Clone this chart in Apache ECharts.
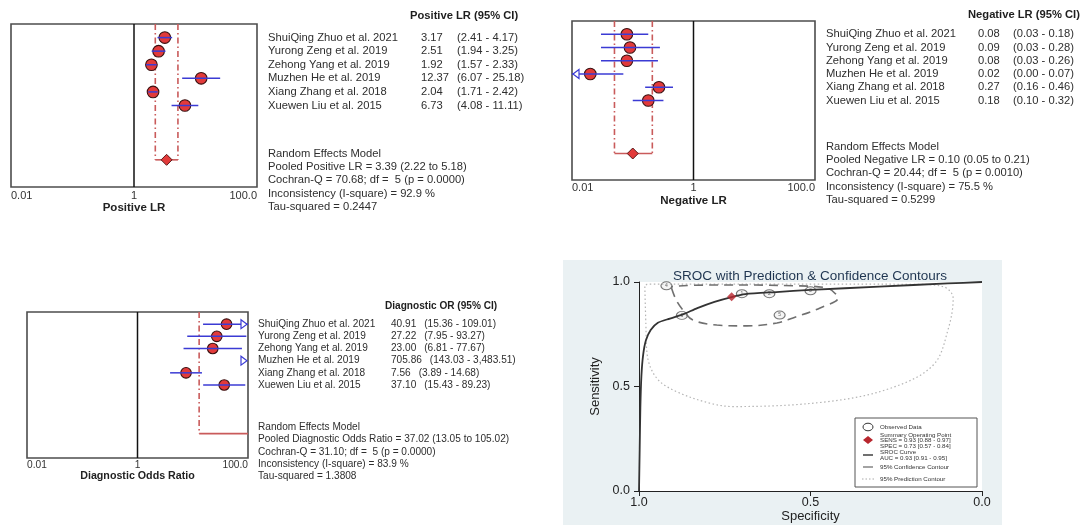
<!DOCTYPE html>
<html><head><meta charset="utf-8">
<script src="https://cdn.jsdelivr.net/npm/echarts@6/dist/echarts.min.js"></script>
<style>html,body{margin:0;padding:0;background:#fff}#c{width:1083px;height:525px}</style>
</head><body><div id="c"></div>
<script>
// ---------------- DATA ----------------
const studies = ['ShuiQing Zhuo et al. 2021','Yurong Zeng et al. 2019','Zehong Yang et al. 2019','Muzhen He et al. 2019','Xiang Zhang et al. 2018','Xuewen Liu et al. 2015'];
const studyNo = ['1','2','3','4','5','6'];

const plrEst = [3.17, 2.51, 1.92, 12.37, 2.04, 6.73];
const plrLo  = [2.41, 1.94, 1.57, 6.07, 1.71, 4.08];
const plrHi  = [4.17, 3.25, 2.33, 25.18, 2.42, 11.11];
const plrPooled = [3.39, 2.22, 5.18];
const plrStats = ['Random Effects Model','Pooled Positive LR = 3.39 (2.22 to 5.18)','Cochran-Q = 70.68; df =  5 (p = 0.0000)','Inconsistency (I-square) = 92.9 %','Tau-squared = 0.2447'];

const nlrEst = [0.08, 0.09, 0.08, 0.02, 0.27, 0.18];
const nlrLo  = [0.03, 0.03, 0.03, 0.00, 0.16, 0.10];
const nlrHi  = [0.18, 0.28, 0.26, 0.07, 0.46, 0.32];
const nlrPooled = [0.10, 0.05, 0.21];
const nlrStats = ['Random Effects Model','Pooled Negative LR = 0.10 (0.05 to 0.21)','Cochran-Q = 20.44; df =  5 (p = 0.0010)','Inconsistency (I-square) = 75.5 %','Tau-squared = 0.5299'];

const dorEst = [40.91, 27.22, 23.00, 705.86, 7.56, 37.10];
const dorLo  = [15.36, 7.95, 6.81, 143.03, 3.89, 15.43];
const dorHi  = [109.01, 93.27, 77.67, 3483.51, 14.68, 89.23];
const dorPooled = [37.02, 13.05, 105.02];
const dorStats = ['Random Effects Model','Pooled Diagnostic Odds Ratio = 37.02 (13.05 to 105.02)','Cochran-Q = 31.10; df =  5 (p = 0.0000)','Inconsistency (I-square) = 83.9 %','Tau-squared = 1.3808'];

const logTicks = [0.01, 1, 100];
const logTickLabels = ['0.01', '1', '100.0'];

// SROC (specificity, sensitivity)
const obsSpec = [0.70, 0.62, 0.50, 0.92, 0.59, 0.875];
const obsSens = [0.944, 0.944, 0.958, 0.982, 0.842, 0.840];
const summarySpec = 0.73, summarySens = 0.93;
const srocSpec = [1.0, 0.998, 0.996, 0.993, 0.988, 0.980, 0.966, 0.945, 0.91, 0.872, 0.83, 0.78, 0.73, 0.69, 0.60, 0.50, 0.30, 0.10, 0.0];
const srocSens = [0.0, 0.20, 0.40, 0.55, 0.65, 0.72, 0.77, 0.805, 0.825, 0.845, 0.875, 0.905, 0.928, 0.942, 0.952, 0.962, 0.978, 0.993, 1.0];
const confSpec = [0.905, 0.892, 0.872, 0.843, 0.773, 0.685, 0.598, 0.551, 0.472, 0.420, 0.452, 0.551, 0.764, 0.904, 0.905];
const confSens = [0.970, 0.915, 0.866, 0.818, 0.794, 0.790, 0.804, 0.828, 0.876, 0.923, 0.971, 0.982, 0.986, 0.978, 0.970];
const predSpec = [0.983, 0.980, 0.976, 0.948, 0.890, 0.793, 0.725, 0.453, 0.268, 0.142, 0.098, 0.084, 0.113, 0.20, 0.60, 0.975, 0.983];
const predSens = [0.978, 0.80, 0.651, 0.539, 0.475, 0.420, 0.404, 0.427, 0.491, 0.603, 0.778, 0.922, 0.978, 0.989, 0.990, 0.990, 0.978];
const srocXTicks = ['1.0','0.5','0.0'];
const legendTexts = ['Observed Data','Summary Operating Point','SENS = 0.93 [0.88 - 0.97]','SPEC = 0.73 [0.57 - 0.84]','SROC Curve','AUC = 0.93 [0.91 - 0.95]','95% Confidence Contour','95% Prediction Contour'];

// ---------------- LAYOUT ----------------
const FONT = '"Liberation Sans", Arial, sans-serif';
const G = [
  {left: 11,  top: 24,  width: 246, height: 163},
  {left: 572, top: 21,  width: 243, height: 159},
  {left: 27,  top: 312, width: 221, height: 146},
  {left: 639, top: 282, width: 343, height: 209}
];
const ROWS = 12, POOLROW = 10;
const rowY = (g, r) => g.top + r / ROWS * g.height;

const ctx = document.createElement('canvas').getContext('2d');
function tw(t, size) { ctx.font = size + 'px ' + FONT; return ctx.measureText(t).width; }
const fmt = v => v.toLocaleString('en-US', {minimumFractionDigits: 2, maximumFractionDigits: 2});

const chart = echarts.init(document.getElementById('c'));
const BLUE = '#3b3bd4', RED = '#e23a3a', BRK = '#c95b5b';

function forestX(gi, name, fs, nameGap, margin) {
  return {gridIndex: gi, type: 'log', logBase: 10, min: 0.01, max: 100, name, nameLocation: 'middle', nameGap,
    nameTextStyle: {fontFamily: FONT, fontWeight: 'bold', fontSize: fs + 0.5, color: '#222'},
    axisLine: {show: false}, axisTick: {show: false}, splitLine: {show: false},
    axisLabel: {fontFamily: FONT, fontSize: fs, color: '#333', margin, showMinLabel: true, showMaxLabel: true,
      alignMinLabel: 'left', alignMaxLabel: 'right', hideOverlap: false,
      formatter: v => { const i = logTicks.findIndex(t => Math.abs(Math.log10(t) - Math.log10(v)) < 1e-6); return i >= 0 ? logTickLabels[i] : ''; }}};
}
function forestY(gi) { return {gridIndex: gi, type: 'value', min: 0, max: ROWS, inverse: true, show: false}; }

function forestSeries(gi, est, lo, hi, r) {
  return {type: 'custom', xAxisIndex: gi, yAxisIndex: gi, z: 5, silent: true,
    data: est.map((e, i) => [e, i + 1, lo[i], hi[i]]), encode: {x: 0, y: 1},
    renderItem: (p, api) => {
      const e = api.value(0), y = api.value(1), l = api.value(2), h = api.value(3);
      const MIN = 0.01, MAX = 100;
      const yy = api.coord([1, y])[1];
      const xMin = api.coord([MIN, y])[0], xMax = api.coord([MAX, y])[0];
      const cx = v => v <= MIN ? xMin : (v >= MAX ? xMax : api.coord([v, y])[0]);
      const ch = [];
      if (e >= MIN && e <= MAX) ch.push({type: 'circle', shape: {cx: cx(e), cy: yy, r}, style: {fill: RED, stroke: '#3a1010', lineWidth: 1.1}});
      if (l < MAX && h > MIN) ch.push({type: 'line', shape: {x1: cx(l), y1: yy, x2: cx(h), y2: yy}, style: {stroke: BLUE, lineWidth: 1.5}});
      if (l < MIN) ch.push({type: 'polygon', shape: {points: [[xMin + 1, yy], [xMin + 7, yy - 4.5], [xMin + 7, yy + 4.5]]}, style: {fill: '#fff', stroke: BLUE, lineWidth: 1.2}});
      if (h > MAX) ch.push({type: 'polygon', shape: {points: [[xMax - 1, yy], [xMax - 7, yy - 4.5], [xMax - 7, yy + 4.5]]}, style: {fill: '#fff', stroke: BLUE, lineWidth: 1.2}});
      return {type: 'group', children: ch};
    }};
}
function pooledSeries(gi, pooled, d) {
  return {type: 'custom', xAxisIndex: gi, yAxisIndex: gi, z: 2, silent: true,
    data: [[pooled[0], POOLROW, pooled[1], pooled[2]]], encode: {x: 0, y: 1},
    renderItem: (p, api) => {
      const e = api.value(0), y = api.value(1), l = api.value(2), h = api.value(3);
      const MIN = 0.01, MAX = 100;
      const top = api.coord([1, 0])[1], bot = api.coord([1, ROWS])[1], yy = api.coord([1, y])[1];
      const xMin = api.coord([MIN, y])[0], xMax = api.coord([MAX, y])[0];
      const cx = v => v <= MIN ? xMin : (v >= MAX ? xMax : api.coord([v, y])[0]);
      const one = api.coord([1, y])[0];
      const ch = [{type: 'line', shape: {x1: one, y1: top, x2: one, y2: bot}, style: {stroke: '#111', lineWidth: 1.5}}];
      const dash = {stroke: BRK, lineWidth: 1.6, lineDash: [6, 3, 1.5, 3]};
      if (l > MIN && l < MAX) ch.push({type: 'line', shape: {x1: cx(l), y1: top, x2: cx(l), y2: yy}, style: dash});
      if (h > MIN && h < MAX) ch.push({type: 'line', shape: {x1: cx(h), y1: top, x2: cx(h), y2: yy}, style: dash});
      ch.push({type: 'line', shape: {x1: cx(l), y1: yy, x2: cx(h), y2: yy}, style: {stroke: BRK, lineWidth: 1.6}});
      if (e > MIN && h <= MAX) { const x = cx(e); ch.push({type: 'polygon', shape: {points: [[x - d, yy], [x, yy - d], [x + d, yy], [x, yy + d]]}, style: {fill: RED, stroke: '#5a1a1a', lineWidth: 1}}); }
      return {type: 'group', children: ch};
    }};
}

// ---------------- TEXT (graphic) ----------------
const gfx = [];
function T(x, y, text, size, extra) {
  gfx.push({type: 'text', x, y, silent: true, style: Object.assign({text, fill: '#2e2e2e', fontFamily: FONT, fontSize: size, verticalAlign: 'middle', align: 'left'}, extra || {})});
}
function table(g, header, hx, hy, nameX, valX, est, lo, hi, stats, statY, statStep, size, minOff, gap) {
  T(hx, hy, header, size, {fontWeight: 'bold', fill: '#1e1e1e'});
  studies.forEach((s, i) => {
    const y = rowY(g, i + 1);
    T(nameX, y, s, size);
    const v = fmt(est[i]);
    T(valX, y, v, size);
    T(Math.max(valX + minOff, valX + tw(v, size) + gap), y, '(' + fmt(lo[i]) + ' - ' + fmt(hi[i]) + ')', size);
  });
  stats.forEach((s, i) => T(nameX, statY + i * statStep, s, size));
}
table(G[0], 'Positive LR (95% CI)', 410, 16, 268, 421, plrEst, plrLo, plrHi, plrStats, 154, 13.2, 11.2, 36, 6);
table(G[1], 'Negative LR (95% CI)', 968, 15, 826, 978, nlrEst, nlrLo, nlrHi, nlrStats, 147, 13.2, 11.2, 35, 6);
table(G[2], 'Diagnostic OR (95% CI)', 385, 306, 258, 391, dorEst, dorLo, dorHi, dorStats, 427, 12.4, 10.1, 24, 8);

// SROC background and title
gfx.push({type: 'rect', z: -10, silent: true, shape: {x: 563, y: 260, width: 439, height: 265}, style: {fill: '#eaf1f3'}});
T(810, 276, 'SROC with Prediction & Confidence Contours', 13.5, {align: 'center', fill: '#1f3550'});

// SROC legend
(function () {
  const lx = 855, ly = 418, fs = 6.2, tx = 880;
  gfx.push({type: 'rect', z: 10, silent: true, shape: {x: lx, y: ly, width: 122, height: 69}, style: {fill: '#fff', stroke: '#555', lineWidth: 1}});
  gfx.push({type: 'ellipse', z: 11, silent: true, shape: {cx: 868, cy: 427, rx: 5, ry: 3.8}, style: {fill: '#fff', stroke: '#333', lineWidth: 1}});
  gfx.push({type: 'polygon', z: 11, silent: true, shape: {points: [[863, 440], [868, 436], [873, 440], [868, 444]]}, style: {fill: '#b8262e'}});
  gfx.push({type: 'line', z: 11, silent: true, shape: {x1: 863, y1: 455, x2: 873, y2: 455}, style: {stroke: '#333', lineWidth: 1.4}});
  gfx.push({type: 'line', z: 11, silent: true, shape: {x1: 863, y1: 467, x2: 873, y2: 467}, style: {stroke: '#666', lineWidth: 1.2}});
  gfx.push({type: 'line', z: 11, silent: true, shape: {x1: 862, y1: 479, x2: 874, y2: 479}, style: {stroke: '#aaa', lineWidth: 1, lineDash: [1.5, 2]}});
  const ys = [427, 435, 440.5, 446, 452.5, 458, 467, 479];
  legendTexts.forEach((t, i) => gfx.push({type: 'text', z: 11, silent: true, x: tx, y: ys[i], style: {text: t, fill: '#333', fontFamily: FONT, fontSize: fs, verticalAlign: 'middle'}}));
})();

// ---------------- SROC axes ----------------
const srocAxisCommon = {type: 'value', min: 0, max: 1, interval: 0.5, splitLine: {show: false},
  axisLine: {show: true, onZero: false, lineStyle: {color: '#222', width: 1}},
  axisTick: {show: true, length: 5, lineStyle: {color: '#222'}},
  nameLocation: 'middle', nameTextStyle: {fontFamily: FONT, fontSize: 13, color: '#222'}};
const srocLabel = v => srocXTicks[[1, 0.5, 0].findIndex(t => Math.abs(t - v) < 1e-6)];

const pairs = (a, b) => a.map((v, i) => [v, b[i]]);

chart.setOption({
  animation: false,
  backgroundColor: '#fff',
  grid: G.map((g, i) => Object.assign({}, g, i < 3 ? {show: true, borderColor: '#4d4d4d', borderWidth: 1.6, backgroundColor: '#fff'} : {show: true, borderWidth: 0, backgroundColor: '#fff'})),
  xAxis: [
    forestX(0, 'Positive LR', 11, 15, 3),
    forestX(1, 'Negative LR', 11, 15, 2),
    forestX(2, 'Diagnostic Odds Ratio', 10.2, 13, 2),
    Object.assign({}, srocAxisCommon, {gridIndex: 3, inverse: true, name: 'Specificity', nameGap: 15,
      axisLabel: {fontFamily: FONT, fontSize: 12.5, color: '#222', margin: 5, formatter: srocLabel}})
  ],
  yAxis: [forestY(0), forestY(1), forestY(2),
    Object.assign({}, srocAxisCommon, {gridIndex: 3, name: 'Sensitivity', nameGap: 37,
      axisLabel: {fontFamily: FONT, fontSize: 12.5, color: '#222', margin: 9, formatter: srocLabel}})
  ],
  graphic: {elements: gfx},
  series: [
    pooledSeries(0, plrPooled, 5.5), forestSeries(0, plrEst, plrLo, plrHi, 5.8),
    pooledSeries(1, nlrPooled, 5.5), forestSeries(1, nlrEst, nlrLo, nlrHi, 5.8),
    pooledSeries(2, dorPooled, 5), forestSeries(2, dorEst, dorLo, dorHi, 5.3),
    {type: 'line', xAxisIndex: 3, yAxisIndex: 3, data: pairs(predSpec, predSens), smooth: 0.35, symbol: 'none', silent: true,
      lineStyle: {color: '#b4b4b4', width: 1.2, type: [1.5, 2.5]}},
    {type: 'line', xAxisIndex: 3, yAxisIndex: 3, data: pairs(confSpec, confSens), smooth: 0.35, symbol: 'none', silent: true,
      lineStyle: {color: '#707070', width: 1.6, type: [9, 6]}},
    {type: 'line', xAxisIndex: 3, yAxisIndex: 3, data: pairs(srocSpec, srocSens), smooth: 0.25, symbol: 'none', silent: true,
      lineStyle: {color: '#333', width: 1.8}},
    {type: 'scatter', xAxisIndex: 3, yAxisIndex: 3, data: obsSpec.map((s, i) => [s, obsSens[i], studyNo[i]]), symbol: 'circle', symbolSize: [11, 8], silent: true,
      itemStyle: {color: '#f2f2f2', borderColor: '#555', borderWidth: 1},
      label: {show: true, position: 'inside', formatter: p => p.data[2], fontSize: 5, color: '#444'}},
    {type: 'scatter', xAxisIndex: 3, yAxisIndex: 3, data: [[summarySpec, summarySens]], symbol: 'diamond', symbolSize: [9, 9], silent: true, z: 4,
      itemStyle: {color: '#b8262e'}}
  ]
});
</script></body></html>
